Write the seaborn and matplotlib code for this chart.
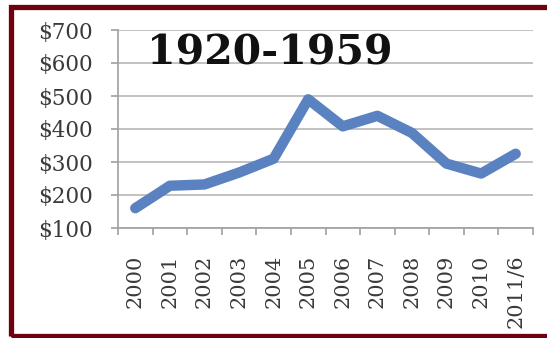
import numpy as np
import pandas as pd
import seaborn as sns
from matplotlib import pyplot as plt
from matplotlib.patches import Rectangle

# values
years = ["2000", "2001", "2002", "2003", "2004", "2005",
         "2006", "2007", "2008", "2009", "2010", "2011/6"]
prices = [160, 228, 232, 268, 310, 490, 408, 440, 388, 295, 265, 325]
y_ticks = [100, 200, 300, 400, 500, 600, 700]
title_text = "1920-1959"

df = pd.DataFrame({"pos": np.arange(len(years)), "price": prices})

sns.set_theme(style="white")
plt.rcParams["font.family"] = ["DejaVu Serif", "Liberation Serif"]

fig = plt.figure(figsize=(5.47, 3.38), dpi=100)
ax = fig.add_axes([118 / 547, 1 - 228 / 338, 415 / 547, 198 / 338])

sns.lineplot(data=df, x="pos", y="price", ax=ax, color="#5b82c0",
             linewidth=7.5, solid_capstyle="round", solid_joinstyle="round")

ax.set_xlim(-0.5, len(years) - 0.5)
ax.set_ylim(y_ticks[0], y_ticks[-1])
ax.set_yticks(y_ticks)
ax.set_yticklabels([f"${v}" for v in y_ticks])
ax.set_xticks(np.arange(len(years)))
ax.set_xticklabels(years, rotation=90)
ax.set_xticks(np.arange(len(years) + 1) - 0.5, minor=True)
ax.set_xlabel("")
ax.set_ylabel("")

ax.grid(axis="y", color="#b8b8b8", linewidth=1.2)
ax.set_axisbelow(True)
for side in ["top", "right"]:
    ax.spines[side].set_visible(False)
for side in ["left", "bottom"]:
    ax.spines[side].set_color("#a0a0a0")
    ax.spines[side].set_linewidth(1.2)

ax.tick_params(axis="y", which="major", left=True, length=5, width=1.2,
               color="#a0a0a0", pad=13, labelsize=15.5, labelcolor="#3a3a3a")
ax.tick_params(axis="x", which="major", bottom=False, length=0, pad=19,
               labelsize=15, labelcolor="#3a3a3a")
ax.tick_params(axis="x", which="minor", bottom=True, length=5, width=1.2,
               color="#a0a0a0")

ax.text(0.366, 0.88, title_text, transform=ax.transAxes, ha="center",
        va="center", fontsize=29.5, fontweight="bold", color="#111111")

# maroon frame on left, top and bottom
fig.patches.append(Rectangle((10.5 / 547, 1 - 335.5 / 338), 600 / 547, 329 / 338,
                             transform=fig.transFigure, fill=False,
                             edgecolor="#6e0010", linewidth=3.8))

fig.savefig("out.png", dpi=100)
